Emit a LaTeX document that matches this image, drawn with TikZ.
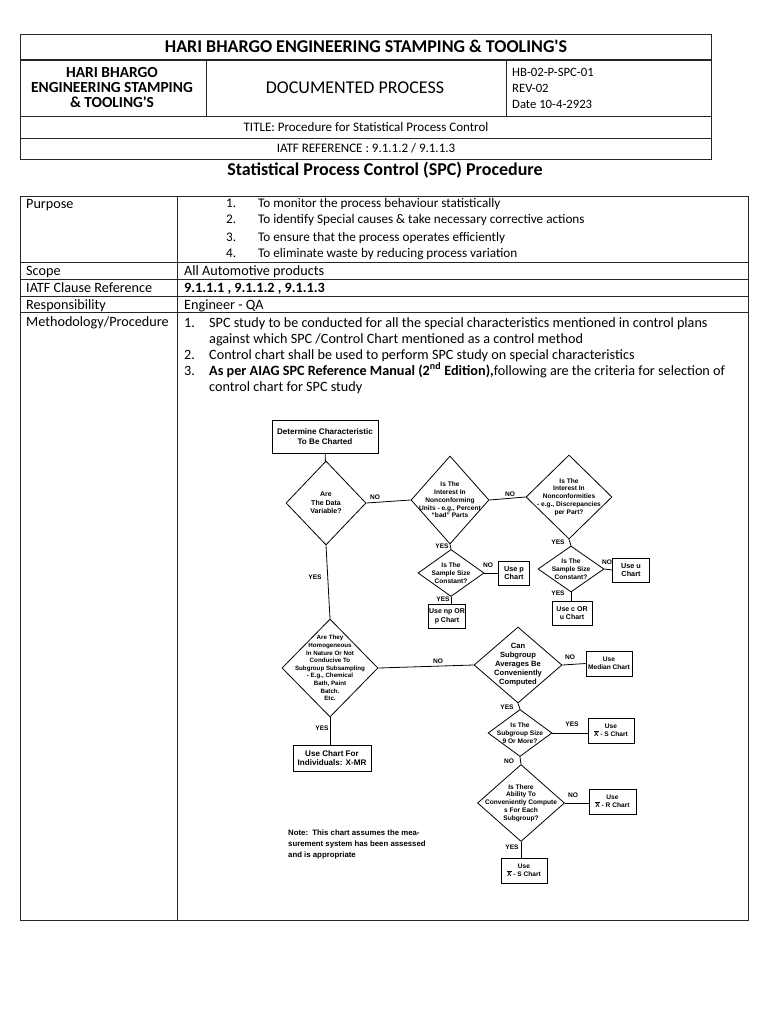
\documentclass[tikz,border=0pt]{standalone}
\usepackage{fontspec}
\setmainfont{Carlito}
\newfontfamily\fcfam{Liberation Sans}
\usetikzlibrary{shapes.geometric}
\newcommand\bodyf{\fontsize{14.2}{16}\selectfont}
\newcommand\purf{\fontsize{13.2}{16}\selectfont}
\newcommand\fcf{\fcfam\bfseries\fontsize{6.6}{7.8}\selectfont}
\newcommand\fcb{\fcfam\bfseries\fontsize{8.1}{9.6}\selectfont}
\newcommand\xbar{$\overline{\hbox{X}}$}
\begin{document}
\begin{tikzpicture}[x=1pt,y=-1pt,
  tline/.style={line width=0.9pt, draw=black!85},
  txt/.style={inner sep=0, anchor=base west, font=\bodyf},
  ptxt/.style={inner sep=0, anchor=base west, font=\purf},
  ctxt/.style={inner sep=0, anchor=base, font=\bodyf},
  dia/.style={draw, diamond, inner sep=0, line width=0.8pt},
  dtext/.style={inner sep=0, align=center, font=\fcf},
  fbox/.style={draw, rectangle, inner sep=0, line width=0.8pt, align=center, font=\fcf},
  lab/.style={inner sep=0, font=\fcf},
  conn/.style={line width=0.8pt}
]
\useasboundingbox (0,0) rectangle (768,1024);
\fill[white] (0,0) rectangle (768,1024);
% ---------- header ----------
\draw[tline] (20,34) rectangle (711,159);
\draw[line width=1.8pt, draw=black!85] (20,60) -- (711,60);
\draw[tline] (20,116) -- (711,116);
\draw[tline] (20,138) -- (711,138);
\draw[tline] (206,60) -- (206,116);
\draw[tline] (506,60) -- (506,116);
\node[ctxt, font=\fontsize{18}{20}\selectfont\bfseries] (h1) at (366,53) {HARI BHARGO ENGINEERING STAMPING \& TOOLING\textquotesingle S};
\node[inner sep=0, align=center, font=\fontsize{15.4}{15}\selectfont\bfseries] (h2) at (112,88) {HARI BHARGO\\ENGINEERING STAMPING\\\& TOOLING\textquotesingle S};
\node[ctxt, font=\fontsize{18}{20}\selectfont] (h3) at (355,94) {DOCUMENTED PROCESS};
\node[txt, font=\fontsize{12.7}{14}\selectfont] (h4) at (512,77) {HB-02-P-SPC-01};
\node[txt, font=\fontsize{12.7}{14}\selectfont] (h5) at (512,93) {REV-02};
\node[txt, font=\fontsize{12.7}{14}\selectfont] (h6) at (512,109) {Date 10-4-2923};
\node[ctxt, font=\fontsize{13}{14}\selectfont] (h7) at (366,132) {TITLE: Procedure for Statistical Process Control};
\node[ctxt, font=\fontsize{13}{14}\selectfont] (h8) at (366,153) {IATF REFERENCE : 9.1.1.2 / 9.1.1.3};
\node[ctxt, font=\fontsize{18}{20}\selectfont\bfseries] (h9) at (385,176) {Statistical Process Control (SPC) Procedure};
% ---------- table ----------
\draw[tline] (20,196) rectangle (748,920);
\draw[tline] (177,196) -- (177,920);
\draw[tline] (20,262) -- (748,262);
\draw[tline] (20,279) -- (748,279);
\draw[tline] (20,296) -- (748,296);
\draw[tline] (20,312) -- (748,312);
\node[txt] (r1) at (26,209) {Purpose};
\node[txt] (r2) at (26,275) {Scope};
\node[txt] (r3) at (26,292) {IATF Clause Reference};
\node[txt] (r4) at (26,309) {Responsibility};
\node[txt] (r5) at (26,326) {Methodology/Procedure};
\node[ptxt] (pn1) at (226,208) {1.};
\node[ptxt] (pt1) at (258,208) {To monitor the process behaviour statistically};
\node[ptxt] (pn2) at (226,224) {2.};
\node[ptxt] (pt2) at (258,224) {To identify Special causes \& take necessary corrective actions};
\node[ptxt] (pn3) at (226,241) {3.};
\node[ptxt] (pt3) at (258,241) {To ensure that the process operates efficiently};
\node[ptxt] (pn4) at (226,257) {4.};
\node[ptxt] (pt4) at (258,257) {To eliminate waste by reducing process variation};
\node[txt] (s1) at (184,275) {All Automotive products};
\node[txt, font=\bodyf\bfseries] (s2) at (184,292) {9.1.1.1 , 9.1.1.2 , 9.1.1.3};
\node[txt] (s3) at (184,309) {Engineer - QA};
\node[txt] (mn1) at (184,327) {1.};
\node[txt] (mt1) at (209,327) {SPC study to be conducted for all the special characteristics mentioned in control plans};
\node[txt] (mt1b) at (209,343) {against which SPC /Control Chart mentioned as a control method};
\node[txt] (mn2) at (184,359) {2.};
\node[txt] (mt2) at (209,359) {Control chart shall be used to perform SPC study on special characteristics};
\node[txt] (mn3) at (184,375) {3.};
\node[txt] (mt3) at (209,375) {\textbf{As per AIAG SPC Reference Manual (2\textsuperscript{nd} Edition),}following are the criteria for selection of};
\node[txt] (mt3b) at (209,391) {control chart for SPC study};
% ---------- flowchart ----------
\node[fbox, font=\fcb, minimum width=106, minimum height=33] (top) at (325,436.5) {Determine Characteristic\\To Be Charted};
\node[dia, minimum width=80, minimum height=84] (d1) at (326,503) {};
\node[dtext, font=\fcfam\bfseries\fontsize{7}{8.4}\selectfont] (d1t) at (d1) {Are\\The Data\\Variable?};
\node[dia, minimum width=78, minimum height=88] (d2) at (450,500) {};
\node[dtext] (d2t) at (d2) {Is The\\Interest In\\Nonconforming\\Units - e.g., Percent\\“bad” Parts};
\node[dia, minimum width=86, minimum height=84] (d3) at (569,497) {};
\node[dtext] (d3t) at (d3) {Is The\\Interest In\\Nonconformities\\- e.g., Discrepancies\\per Part?};
\node[dia, minimum width=66, minimum height=47] (d4) at (451,573) {};
\node[dtext] (d4t) at (d4) {Is The\\Sample Size\\Constant?};
\node[dia, minimum width=66, minimum height=46] (d5) at (571,569) {};
\node[dtext] (d5t) at (d5) {Is The\\Sample Size\\Constant?};
\node[fbox, font=\fcfam\bfseries\fontsize{7.3}{8.6}\selectfont, minimum width=31, minimum height=24] (bp) at (514,573) {Use p\\Chart};
\node[fbox, font=\fcfam\bfseries\fontsize{7}{8.6}\selectfont, minimum width=37, minimum height=24] (bnp) at (447,616) {Use np OR\\p Chart};
\node[fbox, font=\fcfam\bfseries\fontsize{7.3}{8.6}\selectfont, minimum width=37, minimum height=24] (bu) at (631,570) {Use u\\Chart};
\node[fbox, font=\fcfam\bfseries\fontsize{7}{8.6}\selectfont, minimum width=40, minimum height=24] (bc) at (572,613) {Use c OR\\u Chart};
\node[dia, minimum width=96, minimum height=98] (d6) at (330,668) {};
\node[dtext, font=\fcfam\bfseries\fontsize{6.2}{7.6}\selectfont] (d6t) at (d6) {Are They\\Homogeneous\\In Nature Or Not\\Conducive To\\Subgroup Subsampling\\- E.g., Chemical\\Bath, Paint\\Batch.\\Etc.};
\node[dia, minimum width=88, minimum height=76] (d7) at (518,665) {};
\node[dtext, font=\fcfam\bfseries\fontsize{7.6}{9}\selectfont] (d7t) at (d7) {Can\\Subgroup\\Averages Be\\Conveniently\\Computed};
\node[dia, minimum width=64, minimum height=47] (d8) at (520,733) {};
\node[dtext] (d8t) at (d8) {Is The\\Subgroup Size\\9 Or More?};
\node[dia, minimum width=87, minimum height=77] (d9) at (521,803) {};
\node[dtext] (d9t) at (d9) {Is There\\Ability To\\Conveniently Compute\\s For Each\\Subgroup?};
\node[fbox, font=\fcb, minimum width=78, minimum height=26] (bx) at (332,758) {Use Chart For\\Individuals: X-MR};
\node[fbox, minimum width=46, minimum height=25] (bm) at (609,663.5) {Use\\Median Chart};
\node[fbox, minimum width=46, minimum height=25] (bs1) at (611,730.5) {Use\\\xbar\ - S Chart};
\node[fbox, minimum width=47, minimum height=25] (br) at (612.5,801.5) {Use\\\xbar\ - R Chart};
\node[fbox, minimum width=46, minimum height=25] (bs2) at (524,870.5) {Use\\\xbar\ - S Chart};
% connectors
\draw[conn] (top) -- (d1);
\draw[conn] (d1.east) -- (d2.west);
\draw[conn] (d2.east) -- (d3.west);
\draw[conn] (d2.south) -- (d4.north);
\draw[conn] (d4.east) -- (bp.west);
\draw[conn] (d4.south) -- (d4.south |- bnp.north);
\draw[conn] (d3.south) -- (d5.north);
\draw[conn] (d5.east) -- (bu.west);
\draw[conn] (d5.south) -- (d5.south |- bc.north);
\draw[conn] (d1.south) -- (d6.north);
\draw[conn] (d6.east) -- (d7.west);
\draw[conn] (d6.south) -- (d6.south |- bx.north);
\draw[conn] (d7.east) -- (bm.west);
\draw[conn] (d7.south) -- (d8.north);
\draw[conn] (d8.east) -- (d8.east -| bs1.west);
\draw[conn] (d8.south) -- (d9.north);
\draw[conn] (d9.east) -- (d9.east -| br.west);
\draw[conn] (d9.south) -- (d9.south |- bs2.north);
% labels
\node[lab] (l1) at (375,497) {NO};
\node[lab] (l2) at (510,494) {NO};
\node[lab] (l3) at (442,546) {YES};
\node[lab] (l4) at (488,565) {NO};
\node[lab] (l5) at (443,599) {YES};
\node[lab] (l6) at (558,542) {YES};
\node[lab] (l7) at (607,562) {NO};
\node[lab] (l8) at (558,593) {YES};
\node[lab] (l9) at (315,577) {YES};
\node[lab] (l10) at (438,661) {NO};
\node[lab] (l11) at (322,728) {YES};
\node[lab] (l12) at (570,657) {NO};
\node[lab] (l13) at (507,707) {YES};
\node[lab] (l14) at (572,724) {YES};
\node[lab] (l15) at (509,761) {NO};
\node[lab] (l16) at (573,795) {NO};
\node[lab] (l17) at (512,847) {YES};
\node[inner sep=0, anchor=north west, align=left, font=\fcfam\bfseries\fontsize{7.8}{10.6}\selectfont] (note) at (288,830) {Note:\ \ This chart assumes the mea-\\surement system has been assessed\\and is appropriate};
\end{tikzpicture}
\end{document}
